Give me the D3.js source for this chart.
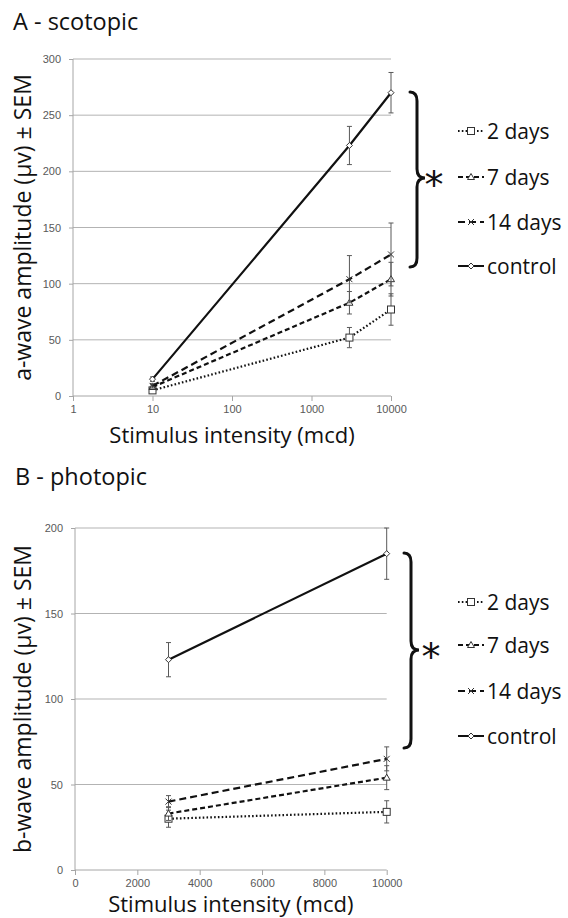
<!DOCTYPE html>
<html lang="en">
<head>
<meta charset="utf-8">
<title>ERG amplitudes</title>
<script src="https://d3js.org/d3.v7.min.js"></script>
<style>
  body { margin: 0; background: white; }
  svg { display: block; font-family: "Open Sans", sans-serif; }
  .tick text { fill: #595959; font-size: 11px; }
  .axis path, .axis line { stroke: #a6a6a6; }
</style>
</head>
<body>
<svg id="chart" width="568" height="918"></svg>
<script>
// series names and legend order
const seriesNames = ["2 days", "7 days", "14 days", "control"];

// A - scotopic (log x)
const scotX = [10, 3000, 10000];
const scot2d = [5, 52, 77];
const scot2dErr = [2, 9, 14];
const scot7d = [8, 83, 104];
const scot7dErr = [2, 10, 15];
const scot14d = [9, 104, 126];
const scot14dErr = [2, 21, 28];
const scotCtrl = [15, 223, 270];
const scotCtrlErr = [2, 17, 18];
const scotXTicks = [1, 10, 100, 1000, 10000];
const scotYTicks = [0, 50, 100, 150, 200, 250, 300];

// B - photopic (linear x)
const photX = [3000, 10000];
const phot2d = [30, 34];
const phot2dErr = [5, 6.5];
const phot7d = [33, 54];
const phot7dErr = [4, 7];
const phot14d = [40, 65];
const phot14dErr = [3.5, 7];
const photCtrl = [123, 185];
const photCtrlErr = [10, 15];
const photXTicks = [0, 2000, 4000, 6000, 8000, 10000];
const photYTicks = [0, 50, 100, 150, 200];

const dashes = ["1.6,2.2", "5,3", "7,4", null];
const markers = ["square", "triangle", "cross", "diamond"];

const svg = d3.select("#chart");

function drawMarker(g, type, x, y) {
  if (type === "square") {
    g.append("rect").attr("x", x - 3.5).attr("y", y - 3.5).attr("width", 7).attr("height", 7)
      .attr("fill", "white").attr("stroke", "#333").attr("stroke-width", 1);
  } else if (type === "triangle") {
    g.append("path").attr("d", `M${x},${y - 3.5}L${x + 3.5},${y + 2.5}L${x - 3.5},${y + 2.5}Z`)
      .attr("fill", "white").attr("stroke", "#333").attr("stroke-width", 1);
  } else if (type === "cross") {
    g.append("path").attr("d", `M${x - 3},${y - 3}L${x + 3},${y + 3}M${x - 3},${y + 3}L${x + 3},${y - 3}`)
      .attr("stroke", "#333").attr("stroke-width", 1);
  } else {
    g.append("path").attr("d", `M${x},${y - 3}L${x + 3},${y}L${x},${y + 3}L${x - 3},${y}Z`)
      .attr("fill", "white").attr("stroke", "#333").attr("stroke-width", 1);
  }
}

function brace(g, xb, y0, y1, ym, tip, curl) {
  const r = 9;
  g.append("path")
    .attr("d", `M${xb - curl},${y1} Q${xb},${y1} ${xb},${y1 - r} L${xb},${ym + r} Q${xb},${ym} ${xb + tip},${ym}` +
      ` Q${xb},${ym} ${xb},${ym - r} L${xb},${y0 + r} Q${xb},${y0} ${xb - curl},${y0}`)
    .attr("fill", "none").attr("stroke", "#111").attr("stroke-width", 3).attr("stroke-linecap", "round");
}

function panel(opt) {
  const x = opt.x, y = opt.y;
  const g = svg.append("g");

  // gridlines
  g.append("g").selectAll("line").data(opt.yTicks.slice(1)).join("line")
    .attr("x1", x.range()[0]).attr("x2", x.range()[1])
    .attr("y1", d => y(d)).attr("y2", d => y(d))
    .attr("stroke", "#b3b3b3").attr("stroke-width", 1);

  g.append("g").attr("class", "axis").attr("transform", `translate(${x.range()[0]},0)`)
    .call(d3.axisLeft(y).tickValues(opt.yTicks).tickSize(4).tickPadding(8).tickFormat(d3.format("d")))
    .call(a => a.select(".domain").attr("d", `M0,${y.range()[0]}V${y.range()[1]}`));

  g.append("g").attr("class", "axis").attr("transform", `translate(0,${y.range()[0]})`)
    .call(d3.axisBottom(x).tickValues(opt.xTicks).tickSize(5).tickPadding(4).tickFormat(d3.format("d")))
    .call(a => a.select(".domain").attr("d", `M${x.range()[0]},0H${x.range()[1]}`));

  const line = d3.line().x(d => x(d[0])).y(d => y(d[1]));

  opt.series.forEach((s, i) => {
    const pts = opt.xs.map((xv, j) => [xv, s.v[j], s.e[j]]);
    // error bars
    const eb = g.append("g").attr("stroke", "#595959").attr("stroke-width", 1);
    pts.forEach(p => {
      const px = x(p[0]);
      eb.append("line").attr("x1", px).attr("x2", px).attr("y1", y(p[1] - p[2])).attr("y2", y(p[1] + p[2]));
      eb.append("line").attr("x1", px - 2.5).attr("x2", px + 2.5).attr("y1", y(p[1] - p[2])).attr("y2", y(p[1] - p[2]));
      eb.append("line").attr("x1", px - 2.5).attr("x2", px + 2.5).attr("y1", y(p[1] + p[2])).attr("y2", y(p[1] + p[2]));
    });
    g.append("path").datum(pts).attr("d", line)
      .attr("fill", "none").attr("stroke", "#111").attr("stroke-width", 2.2)
      .attr("stroke-dasharray", dashes[i]);
    const mg = g.append("g");
    pts.forEach(p => drawMarker(mg, markers[i], x(p[0]), y(p[1])));
  });

  // titles and labels
  svg.append("text").attr("x", opt.titleX).attr("y", opt.titleY).attr("font-size", 23.5).attr("fill", "#111").text(opt.title);
  svg.append("text").attr("transform", `translate(31,${(y.range()[0] + y.range()[1]) / 2}) rotate(-90)`)
    .attr("text-anchor", "middle").attr("font-size", 23).attr("fill", "#111").text(opt.yLabel);
  svg.append("text").attr("x", (x.range()[0] + x.range()[1]) / 2).attr("y", opt.xLabelY)
    .attr("text-anchor", "middle").attr("font-size", 22).attr("fill", "#111").text("Stimulus intensity (mcd)");

  // brace, asterisk and legend
  brace(svg, opt.brace[0], opt.brace[1], opt.brace[2], opt.brace[3], 8, 7);
  svg.append("text").attr("x", opt.star[0]).attr("y", opt.star[1]).attr("text-anchor", "middle")
    .attr("font-size", 38).attr("font-family", "DejaVu Sans").attr("fill", "#111").text("*");

  const lg = svg.append("g");
  seriesNames.forEach((name, i) => {
    const ly = opt.legendY[i];
    lg.append("line").attr("x1", 458).attr("x2", 484).attr("y1", ly).attr("y2", ly)
      .attr("stroke", "#111").attr("stroke-width", 2).attr("stroke-dasharray", dashes[i]);
    drawMarker(lg, markers[i], 471, ly);
    lg.append("text").attr("x", 487).attr("y", ly + 8).attr("font-size", 21).attr("fill", "#111").text(name);
  });
}

panel({
  x: d3.scaleLog().domain([1, 10000]).range([73, 391]),
  y: d3.scaleLinear().domain([0, 300]).range([396, 59]),
  xs: scotX,
  xTicks: scotXTicks,
  yTicks: scotYTicks,
  series: [
    { v: scot2d, e: scot2dErr },
    { v: scot7d, e: scot7dErr },
    { v: scot14d, e: scot14dErr },
    { v: scotCtrl, e: scotCtrlErr }
  ],
  title: "A - scotopic", titleX: 13, titleY: 30,
  yLabel: "a-wave amplitude (\u03bcv) \u00b1 SEM",
  xLabelY: 443,
  brace: [417, 92, 267, 178],
  star: [434, 198],
  legendY: [131, 177, 222, 266]
});

panel({
  x: d3.scaleLinear().domain([0, 10000]).range([75, 386.7]),
  y: d3.scaleLinear().domain([0, 200]).range([870, 528]),
  xs: photX,
  xTicks: photXTicks,
  yTicks: photYTicks,
  series: [
    { v: phot2d, e: phot2dErr },
    { v: phot7d, e: phot7dErr },
    { v: phot14d, e: phot14dErr },
    { v: photCtrl, e: photCtrlErr }
  ],
  title: "B - photopic", titleX: 15, titleY: 485,
  yLabel: "b-wave amplitude (\u03bcv) \u00b1 SEM",
  xLabelY: 911.5,
  brace: [411, 553, 748, 650],
  star: [431, 670],
  legendY: [602, 645, 691, 736]
});
</script>
</body>
</html>
